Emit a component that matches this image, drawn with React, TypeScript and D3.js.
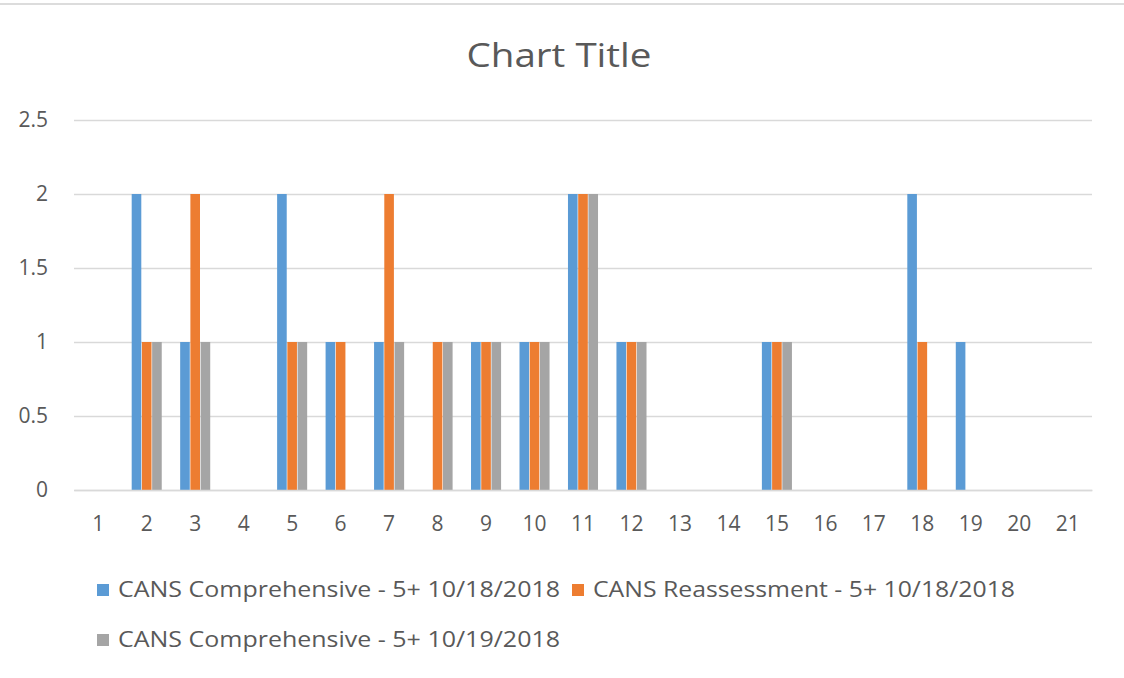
import { useEffect, useRef } from "react";
import * as d3 from "d3";

// categories 1..21
const categories = [
  "1", "2", "3", "4", "5", "6", "7", "8", "9", "10", "11",
  "12", "13", "14", "15", "16", "17", "18", "19", "20", "21",
];
const seriesNames = [
  "CANS Comprehensive - 5+ 10/18/2018",
  "CANS Reassessment - 5+ 10/18/2018",
  "CANS Comprehensive - 5+ 10/19/2018",
];
const comp1018 = [0, 2, 1, 0, 2, 1, 1, 0, 1, 1, 2, 1, 0, 0, 1, 0, 0, 2, 1, 0, 0];
const reas1018 = [0, 1, 2, 0, 1, 1, 2, 1, 1, 1, 2, 1, 0, 0, 1, 0, 0, 1, 0, 0, 0];
const comp1019 = [0, 1, 1, 0, 1, 0, 1, 1, 1, 1, 2, 1, 0, 0, 1, 0, 0, 0, 0, 0, 0];
const yTicks = [0, 0.5, 1, 1.5, 2, 2.5];
const colors = ["#5b9bd5", "#ed7d31", "#a5a5a5"];

const W = 1124;
const H = 678;
const margin = { top: 120, right: 32, bottom: 188, left: 74 };
const textColor = "#595959";
const font = "'Open Sans', 'DejaVu Sans', sans-serif";

function App() {
  const xAxisRef = useRef<SVGGElement>(null);
  const yAxisRef = useRef<SVGGElement>(null);

  const allSeries = [comp1018, reas1018, comp1019];

  const xScale = d3
    .scaleBand<string>()
    .domain(categories)
    .range([margin.left, W - margin.right])
    .padding(0);
  const bw = xScale.bandwidth();
  const groupW = bw * 0.62;
  const x1 = d3
    .scaleBand<number>()
    .domain([0, 1, 2])
    .range([0, groupW])
    .paddingInner(0.06);

  const yScale = d3
    .scaleLinear()
    .domain([0, 2.5])
    .range([H - margin.bottom, margin.top]);

  useEffect(() => {
    // y axis + gridlines
    const yAxis = d3
      .axisLeft(yScale)
      .tickValues(yTicks)
      .tickSize(-(W - margin.left - margin.right))
      .tickPadding(26)
      .tickFormat((d) => String(d));
    const gy = d3.select(yAxisRef.current!).call(yAxis);
    gy.select(".domain").remove();
    gy.selectAll(".tick line").attr("stroke", "#d9d9d9").attr("stroke-width", 1.5);
    gy.selectAll(".tick text")
      .attr("fill", textColor)
      .style("font-family", font)
      .style("font-size", "21px");

    // x axis
    const xAxis = d3.axisBottom(xScale).tickSize(0).tickPadding(26);
    const gx = d3.select(xAxisRef.current!).call(xAxis);
    gx.select(".domain").attr("stroke", "#d9d9d9").attr("stroke-width", 1.5);
    gx.selectAll(".tick text")
      .attr("fill", textColor)
      .style("font-family", font)
      .style("font-size", "21px");
  }, []);

  const legendRows = [
    { i: 0, x: 97, y: 590, len: 442 },
    { i: 1, x: 572, y: 590, len: 422 },
    { i: 2, x: 97, y: 640, len: 442 },
  ];

  return (
    <svg
      width={W}
      height={H}
      style={{ position: "absolute", left: 0, top: 0, background: "#fff" }}
    >
      <rect x={0} y={0} width={W} height={H} fill="#fff" />
      <line x1={0} x2={W} y1={4} y2={4} stroke="#dcdcdc" strokeWidth={2} />

      <text
        x={559}
        y={67}
        textAnchor="middle"
        fill={textColor}
        style={{ fontFamily: font, fontSize: 33 }}
        textLength={185}
        lengthAdjust="spacingAndGlyphs"
      >
        Chart Title
      </text>

      <g ref={yAxisRef} transform={`translate(${margin.left},0)`}></g>

      {allSeries.map((vals, s) => (
        <g key={s} fill={colors[s]}>
          {vals.map((v, i) =>
            v > 0 ? (
              <rect
                key={i}
                x={xScale(categories[i])! + (bw - groupW) / 2 + x1(s)!}
                y={yScale(v)}
                width={x1.bandwidth()}
                height={yScale(0) - yScale(v)}
              />
            ) : null
          )}
        </g>
      ))}

      <g ref={xAxisRef} transform={`translate(0,${H - margin.bottom})`}></g>

      {legendRows.map((r) => (
        <g key={r.i}>
          <rect x={r.x} y={r.y - 6} width={12} height={12} fill={colors[r.i]} />
          <text
            x={r.x + 21}
            y={r.y}
            dy="0.35em"
            fill={textColor}
            style={{ fontFamily: font, fontSize: 21 }}
            textLength={r.len}
            lengthAdjust="spacingAndGlyphs"
          >
            {seriesNames[r.i]}
          </text>
        </g>
      ))}
    </svg>
  );
}

export default App;
